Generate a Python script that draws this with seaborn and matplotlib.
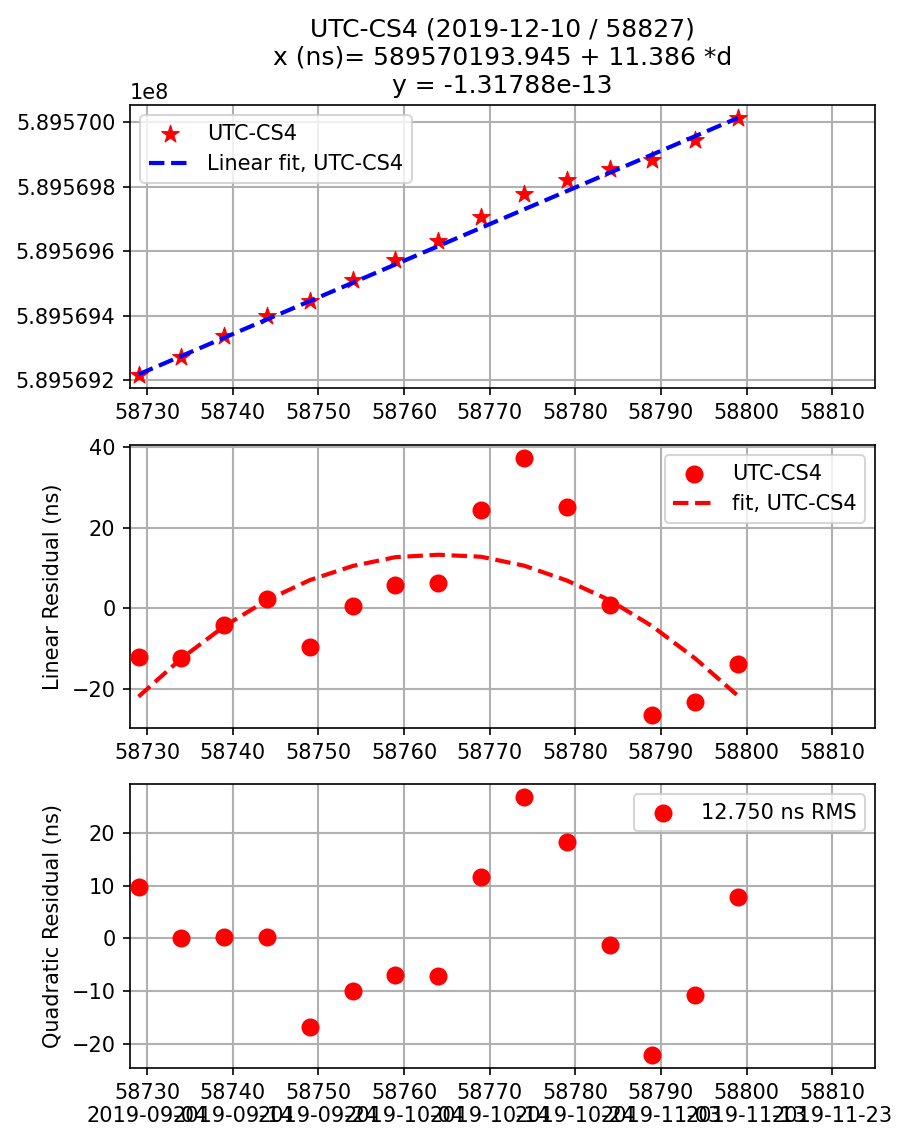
import matplotlib
matplotlib.use("Agg")
import matplotlib.pyplot as plt
import seaborn as sns
import numpy as np

# ---- data ----
mjd = [58729, 58734, 58739, 58744, 58749, 58754, 58759, 58764,
       58769, 58774, 58779, 58784, 58789, 58794, 58799]

phase_ns = [589569216.6, 589569274.0, 589569337.3, 589569400.6, 589569445.5,
            589569512.6, 589569574.9, 589569632.3, 589569707.4, 589569777.4,
            589569822.0, 589569854.4, 589569884.0, 589569944.3, 589570012.5]

linear_fit_ns = [589569219.0, 589569275.8, 589569332.6, 589569389.4, 589569446.2,
                 589569503.0, 589569559.8, 589569616.6, 589569673.4, 589569730.2,
                 589569787.0, 589569843.8, 589569900.6, 589569957.4, 589570014.2]

linear_resid = [-12.2, -12.5, -4.2, 2.3, -9.7, 0.5, 5.8, 6.2,
                24.4, 37.4, 25.1, 0.7, -26.6, -23.3, -13.9]

quad_fit = [-22.0, -12.5, -4.5, 2.0, 7.0, 10.5, 12.7, 13.3,
            12.8, 10.6, 6.9, 2.0, -4.5, -12.5, -21.8]

quad_resid = [9.8, 0.0, 0.3, 0.3, -16.7, -10.0, -6.9, -7.1,
              11.6, 26.8, 18.2, -1.3, -22.1, -10.8, 7.9]

tick_mjd = [58730, 58740, 58750, 58760, 58770, 58780, 58790, 58800, 58810]
tick_dates = ["2019-09-04", "2019-09-14", "2019-09-24", "2019-10-04", "2019-10-14",
              "2019-10-24", "2019-11-03", "2019-11-13", "2019-11-23"]

title = "UTC-CS4 (2019-12-10 / 58827)\nx (ns)= 589570193.945 + 11.386 *d\ny = -1.31788e-13"
series = "UTC-CS4"
rms_label = "12.750 ns RMS"

# ---- figure ----
W, H, DPI = 897, 1135, 150
fig = plt.figure(figsize=(W / DPI, H / DPI), dpi=DPI)

def px_axes(l, t, r, b):
    return fig.add_axes([l / W, 1 - b / H, (r - l) / W, (b - t) / H])

ax1 = px_axes(130, 105, 875, 388)
ax2 = px_axes(130, 445, 875, 728)
ax3 = px_axes(130, 784, 875, 1068)

# top panel
sns.scatterplot(x=mjd, y=phase_ns, ax=ax1, color="red", marker="*", s=80,
                edgecolor="red", linewidth=0.5, label=series, zorder=3)
sns.lineplot(x=mjd, y=linear_fit_ns, ax=ax1, color="blue", linestyle="--",
             linewidth=2, label="Linear fit, " + series, zorder=4)
ax1.ticklabel_format(axis="y", useOffset=False)
ax1.legend(loc="upper left")
ax1.set_title(title, fontsize=12)

# middle panel
sns.scatterplot(x=mjd, y=linear_resid, ax=ax2, color="red", marker="o", s=75,
                edgecolor="red", linewidth=0, label=series, zorder=3)
sns.lineplot(x=mjd, y=quad_fit, ax=ax2, color="red", linestyle="--",
             linewidth=2, label="fit, " + series, zorder=3)
ax2.set_ylabel("Linear Residual (ns)")
ax2.legend(loc="upper right")

# bottom panel
sns.scatterplot(x=mjd, y=quad_resid, ax=ax3, color="red", marker="o", s=75,
                edgecolor="red", linewidth=0, label=rms_label, zorder=3)
ax3.set_ylabel("Quadratic Residual (ns)")
ax3.legend(loc="upper right")
ax3.set_xticks(tick_mjd)
ax3.set_xticklabels([f"{m}\n{d}" for m, d in zip(tick_mjd, tick_dates)])

for ax in (ax1, ax2, ax3):
    ax.set_xlim(58728, 58815)
    ax.grid(True, color="#b0b0b0", linewidth=1)
    ax.set_axisbelow(True)
    if ax is not ax3:
        ax.ticklabel_format(axis="x", useOffset=False)
    ax.set_xlabel("")

fig.savefig("out.png", dpi=DPI)
